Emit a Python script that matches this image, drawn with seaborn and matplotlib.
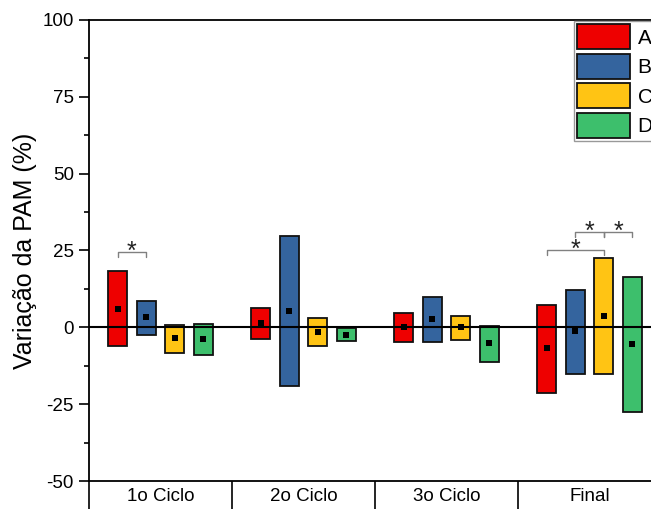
import numpy as np
import pandas as pd
import seaborn as sns
import matplotlib.pyplot as plt
from matplotlib.patches import Patch
from matplotlib.ticker import MultipleLocator

# dados (min, max e media por grupo)
categorias = ["1o Ciclo", "2o Ciclo", "3o Ciclo", "Final"]
grupos = ["A", "B", "C", "D"]
cores = ["#EE0000", "#34649E", "#FFC414", "#3DBF6C"]

A_max = [18.2, 6.3, 4.6, 7.4]
A_min = [-6.2, -3.7, -4.7, -21.4]
A_media = [6.0, 1.4, 0.1, -6.8]
B_max = [8.6, 29.7, 10.0, 12.2]
B_min = [-2.5, -19.1, -4.9, -15.1]
B_media = [3.2, 5.4, 2.8, -1.3]
C_max = [0.9, 2.9, 3.8, 22.4]
C_min = [-8.3, -6.1, -4.0, -15.1]
C_media = [-3.5, -1.6, 0.0, 3.7]
D_max = [1.1, -0.3, 0.3, 16.3]
D_min = [-9.0, -4.6, -11.2, -27.5]
D_media = [-3.8, -2.5, -5.2, -5.5]

# comparacoes significativas: (ciclo, grupo1, grupo2, altura)
comparacoes = [(0, "A", "B", 24.6), (3, "A", "C", 25.1), (3, "B", "C", 31.1), (3, "C", "D", 31.1)]

maximos = {"A": A_max, "B": B_max, "C": C_max, "D": D_max}
minimos = {"A": A_min, "B": B_min, "C": C_min, "D": D_min}
medias = {"A": A_media, "B": B_media, "C": C_media, "D": D_media}
desloc = {"A": -0.3, "B": -0.1, "C": 0.1, "D": 0.3}

linhas = []
for g, cor in zip(grupos, cores):
    for i, cat in enumerate(categorias):
        linhas.append({"ciclo": cat, "grupo": g, "pos": i + desloc[g],
                       "min": minimos[g][i], "max": maximos[g][i],
                       "media": medias[g][i], "cor": cor})
df = pd.DataFrame(linhas)

sns.set_style("ticks")
plt.rcParams["font.family"] = ["Liberation Sans", "DejaVu Sans"]
plt.rcParams["axes.unicode_minus"] = False
plt.rcParams["text.color"] = "black"
plt.rcParams["axes.labelcolor"] = "black"
plt.rcParams["xtick.color"] = "black"
plt.rcParams["ytick.color"] = "black"

fig = plt.figure(figsize=(6.51, 5.09), dpi=100)
ax = fig.add_axes([89 / 651, 28 / 509, 572 / 651, 461 / 509])

ax.bar(df["pos"], df["max"] - df["min"], bottom=df["min"], width=0.133,
       color=df["cor"], edgecolor="#111111", linewidth=1.3, zorder=2)
ax.axhline(0, color="black", linewidth=1.5, zorder=3)
sns.scatterplot(data=df, x="pos", y="media", marker="s", color="black",
                s=14, linewidth=0, legend=False, ax=ax, zorder=4)

# colchetes de significancia
for ciclo, g1, g2, h in comparacoes:
    x1 = ciclo + desloc[g1]
    x2 = ciclo + desloc[g2]
    ax.plot([x1, x1, x2, x2], [h - 1.6, h, h, h - 1.6], color="#808080",
            linewidth=1.0, zorder=3)
    ax.text((x1 + x2) / 2, h - 2.2, "*", ha="center", va="baseline",
            fontsize=18, color="#222222")

ax.set_xlim(-0.5, 3.5)
ax.set_ylim(-50, 100)
ax.yaxis.set_major_locator(MultipleLocator(25))
ax.yaxis.set_minor_locator(MultipleLocator(12.5))
ax.tick_params(axis="y", which="major", length=7, width=1.2, labelsize=13.5, pad=4)
ax.tick_params(axis="y", which="minor", length=3.6, width=1.2)

ax.set_xticks([-0.5, 0.5, 1.5, 2.5, 3.5])
ax.set_xticklabels([])
ax.set_xticks(range(len(categorias)), minor=True)
ax.set_xticklabels(categorias, minor=True)
ax.tick_params(axis="x", which="major", length=24, width=1.2)
ax.tick_params(axis="x", which="minor", length=0, pad=5, labelsize=13.5)

for s in ax.spines.values():
    s.set_linewidth(1.3)
    s.set_color("black")

ax.set_xlabel("")
ax.set_ylabel("Variação da PAM (%)", fontsize=18, labelpad=4)

handles = [Patch(facecolor=c, edgecolor="#111111", linewidth=1.3) for c in cores]
leg = ax.legend(handles, grupos, loc="upper left", bbox_to_anchor=(574 / 651, 1 - 21 / 509),
                bbox_transform=fig.transFigure, fontsize=15, handlelength=2.55,
                handleheight=1.47, labelspacing=0.22, borderpad=0.15, handletextpad=0.35,
                frameon=True, fancybox=False, edgecolor="#999999", framealpha=1,
                borderaxespad=0)
leg.get_frame().set_linewidth(1.0)

fig.savefig("out.png", dpi=100)
